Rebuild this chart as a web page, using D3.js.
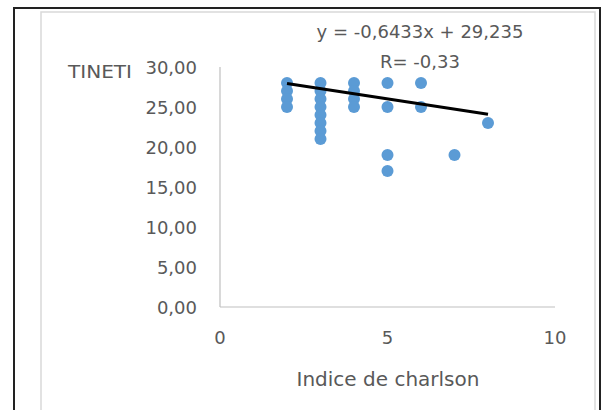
<!DOCTYPE html>
<html>
<head>
<meta charset="utf-8">
<script src="https://cdn.jsdelivr.net/npm/d3@7"></script>
<style>
  html, body { margin: 0; padding: 0; background: #fff; }
  svg { display: block; }
  text { font-family: "DejaVu Sans", sans-serif; fill: #595959; }
</style>
</head>
<body>
<svg id="chart" width="605" height="410"></svg>
<script>
// Charlson index (x) and TINETI score (y) for each patient
const charlson = [2, 2, 2, 2, 3, 3, 3, 3, 3, 3, 3, 3, 4, 4, 4, 4, 5, 5, 5, 5, 6, 6, 7, 8];
const tineti   = [28, 27, 26, 25, 28, 27, 26, 25, 24, 23, 22, 21, 28, 27, 26, 25, 28, 25, 19, 17, 28, 25, 19, 23];

const xTicks = [0, 5, 10];
const yTicks = [0, 5, 10, 15, 20, 25, 30];

// Linear trend line reported with the chart
const slope = -0.6433;
const intercept = 29.235;
const rValue = -0.33;
const trendX = [2, 8];

const svg = d3.select("#chart");

// Outer frame and inner chart area border
svg.append("rect").attr("x", 14).attr("y", 8).attr("width", 586).attr("height", 420)
  .attr("fill", "none").attr("stroke", "#222").attr("stroke-width", 2);
svg.append("rect").attr("x", 41).attr("y", 12).attr("width", 554).attr("height", 420)
  .attr("fill", "none").attr("stroke", "#d9d9d9").attr("stroke-width", 1.5);

const x = d3.scaleLinear().domain([0, 10]).range([220, 555]);
const y = d3.scaleLinear().domain([0, 30]).range([307, 67]);

const fmt = v => d3.format(".2f")(v).replace(".", ",");

// Axis lines
svg.append("line").attr("x1", x(0)).attr("x2", x(0)).attr("y1", y(30)).attr("y2", y(0))
  .attr("stroke", "#bfbfbf").attr("stroke-width", 1.2);
svg.append("line").attr("x1", x(0)).attr("x2", x(10)).attr("y1", y(0)).attr("y2", y(0))
  .attr("stroke", "#bfbfbf").attr("stroke-width", 1.2);

// Y tick labels
svg.selectAll(".ytick").data(yTicks).join("text")
  .attr("class", "ytick")
  .attr("x", 197).attr("y", d => y(d) + 1)
  .attr("dy", "0.35em")
  .attr("text-anchor", "end")
  .attr("font-size", 18)
  .text(fmt);

// X tick labels
svg.selectAll(".xtick").data(xTicks).join("text")
  .attr("class", "xtick")
  .attr("x", d => x(d)).attr("y", 338)
  .attr("dy", "0.35em")
  .attr("text-anchor", "middle")
  .attr("font-size", 18)
  .text(d => d);

// Axis titles
svg.append("text").attr("x", 100).attr("y", 72).attr("dy", "0.35em")
  .attr("text-anchor", "middle").attr("font-size", 18)
  .attr("textLength", 64).attr("lengthAdjust", "spacingAndGlyphs")
  .text("TINETI");
svg.append("text").attr("x", 388).attr("y", 379).attr("dy", "0.35em")
  .attr("text-anchor", "middle").attr("font-size", 20).text("Indice de charlson");

// Data points
const pts = charlson.map((c, i) => ({ c, t: tineti[i] }));
svg.selectAll(".pt").data(pts).join("circle")
  .attr("class", "pt")
  .attr("cx", d => x(d.c)).attr("cy", d => y(d.t))
  .attr("r", 6)
  .attr("fill", "#5b9bd5");

// Trend line
svg.append("line")
  .attr("x1", x(trendX[0])).attr("y1", y(intercept + slope * trendX[0]))
  .attr("x2", x(trendX[1])).attr("y2", y(intercept + slope * trendX[1]))
  .attr("stroke", "#000").attr("stroke-width", 3);

// Equation and correlation labels
svg.append("text").attr("x", 420).attr("y", 32).attr("dy", "0.35em")
  .attr("text-anchor", "middle").attr("font-size", 18)
  .text("y = " + String(slope).replace(".", ",") + "x + " + String(intercept).replace(".", ","));
svg.append("text").attr("x", 420).attr("y", 62).attr("dy", "0.35em")
  .attr("text-anchor", "middle").attr("font-size", 18)
  .text("R= " + String(rValue).replace(".", ","));
</script>
</body>
</html>
